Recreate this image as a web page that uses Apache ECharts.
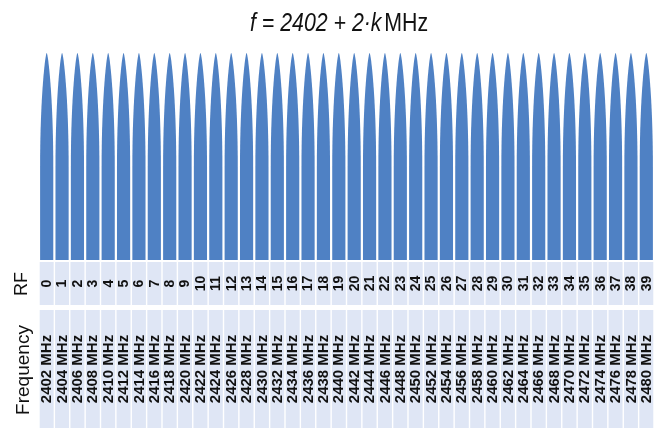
<!DOCTYPE html>
<html>
<head>
<meta charset="utf-8">
<script src="https://cdn.jsdelivr.net/npm/echarts@6/dist/echarts.min.js"></script>
<style>
  html, body { margin: 0; padding: 0; background: #fff; }
  #main { width: 663px; height: 430px; }
</style>
</head>
<body>
<div id="main"></div>
<script>
// RF channel numbers
var channels = [0, 1, 2, 3, 4, 5, 6, 7, 8, 9, 10, 11, 12, 13, 14, 15, 16, 17, 18, 19,
    20, 21, 22, 23, 24, 25, 26, 27, 28, 29, 30, 31, 32, 33, 34, 35, 36, 37, 38, 39];
// centre frequency of every channel (MHz)
var freqs = [2402, 2404, 2406, 2408, 2410, 2412, 2414, 2416, 2418, 2420,
    2422, 2424, 2426, 2428, 2430, 2432, 2434, 2436, 2438, 2440,
    2442, 2444, 2446, 2448, 2450, 2452, 2454, 2456, 2458, 2460,
    2462, 2464, 2466, 2468, 2470, 2472, 2474, 2476, 2478, 2480];
// relative peak level of every channel
var levels = [1, 1, 1, 1, 1, 1, 1, 1, 1, 1, 1, 1, 1, 1, 1, 1, 1, 1, 1, 1,
    1, 1, 1, 1, 1, 1, 1, 1, 1, 1, 1, 1, 1, 1, 1, 1, 1, 1, 1, 1];

var blue = '#4f81c4';
var cellColor = '#dfe6f5';
var textColor = '#111';

var myChart = echarts.init(document.getElementById('main'));

// one lobe per channel: straight sides, pointed arch on top
function renderPeak(params, api) {
    var top = api.coord([api.value(0), api.value(1)]);
    var base = api.coord([api.value(0), 0]);
    var w = api.size([1, 0])[0] - 2.2;
    var x0 = top[0] - w / 2, x1 = top[0] + w / 2;
    var h = base[1] - top[1];
    var yc = top[1] + h * 0.55;
    var kv = 0.62, kh = 0.2;
    var d = 'M' + x0 + ',' + base[1] +
        ' L' + x0 + ',' + yc +
        ' C' + x0 + ',' + (yc - kv * (yc - top[1])) + ' ' + (top[0] - kh * w / 2) + ',' + top[1] + ' ' + top[0] + ',' + top[1] +
        ' C' + (top[0] + kh * w / 2) + ',' + top[1] + ' ' + x1 + ',' + (yc - kv * (yc - top[1])) + ' ' + x1 + ',' + yc +
        ' L' + x1 + ',' + base[1] + ' Z';
    return {
        type: 'path',
        shape: { pathData: d },
        style: { fill: blue }
    };
}

// table cell with rotated text
function cellRenderer(labels, font) {
    return function (params, api) {
        var idx = api.value(0);
        var top = api.coord([idx, 1]);
        var base = api.coord([idx, 0]);
        var w = api.size([1, 0])[0] - 1.4;
        return {
            type: 'group',
            children: [{
                type: 'rect',
                shape: { x: top[0] - w / 2, y: top[1], width: w, height: base[1] - top[1] },
                style: { fill: cellColor }
            }, {
                type: 'text',
                x: top[0] + 0.5,
                y: (top[1] + base[1]) / 2,
                rotation: Math.PI / 2,
                style: {
                    text: labels[params.dataIndex],
                    fill: textColor,
                    font: font,
                    align: 'center',
                    verticalAlign: 'middle'
                }
            }]
        };
    };
}

var peakData = channels.map(function (c, i) { return [i, levels[i]]; });
var cellData = channels.map(function (c, i) { return [i, 1]; });
var rfLabels = channels.map(function (c) { return String(c); });
var freqLabels = freqs.map(function (f) { return f + ' MHz'; });

var grids = [
    { left: 39, right: 9, top: 53, height: 207 },
    { left: 39, right: 9, top: 262, height: 43 },
    { left: 39, right: 9, top: 310, height: 118 }
];

option = {
    animation: false,
    grid: grids,
    xAxis: grids.map(function (g, i) {
        return { type: 'category', gridIndex: i, data: rfLabels, show: false, boundaryGap: true };
    }),
    yAxis: grids.map(function (g, i) {
        return { type: 'value', gridIndex: i, min: 0, max: 1, show: false };
    }),
    graphic: [
        {
            type: 'text',
            x: 339,
            y: 24,
            scaleX: 0.82,
            style: {
                text: '{i|f = 2402 + 2·k} {n|MHz}',
                align: 'center',
                verticalAlign: 'middle',
                rich: {
                    i: { fontStyle: 'italic', fontSize: 26, fontFamily: 'Liberation Sans', fill: '#111' },
                    n: { fontSize: 26, fontFamily: 'Liberation Sans', fill: '#111' }
                }
            }
        },
        {
            type: 'text',
            x: 22,
            y: 284,
            rotation: Math.PI / 2,
            style: {
                text: 'RF',
                font: '18px "Liberation Sans"',
                fill: textColor,
                align: 'center',
                verticalAlign: 'middle'
            }
        },
        {
            type: 'text',
            x: 24,
            y: 370,
            rotation: Math.PI / 2,
            style: {
                text: 'Frequency',
                font: '19px "Liberation Sans"',
                fill: textColor,
                align: 'center',
                verticalAlign: 'middle'
            }
        }
    ],
    series: [
        {
            type: 'custom',
            xAxisIndex: 0,
            yAxisIndex: 0,
            renderItem: renderPeak,
            data: peakData
        },
        {
            type: 'custom',
            xAxisIndex: 1,
            yAxisIndex: 1,
            renderItem: cellRenderer(rfLabels, 'bold 14px "Liberation Sans"'),
            data: cellData
        },
        {
            type: 'custom',
            xAxisIndex: 2,
            yAxisIndex: 2,
            renderItem: cellRenderer(freqLabels, 'bold 15px "Liberation Sans"'),
            data: cellData
        }
    ]
};

myChart.setOption(option);
</script>
</body>
</html>
